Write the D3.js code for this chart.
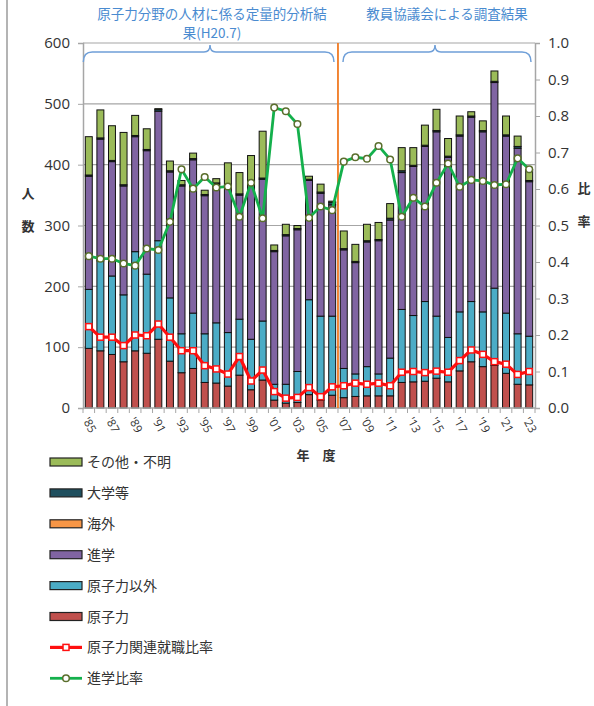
<!DOCTYPE html>
<html>
<head>
<meta charset="utf-8">
<script src="https://cdn.jsdelivr.net/npm/d3@7"></script>
<style>
  html, body { margin: 0; padding: 0; background: #fff; }
  svg { display: block; font-family: "Noto Sans CJK JP", "Noto Sans", sans-serif; }
</style>
</head>
<body>
<svg id="chart" width="594" height="706"></svg>
<script>
// Fiscal years 1985–2023
const years = d3.range(1985, 2024);

// Graduate destinations (people), bottom to top of each stack
const nuclear    = [98, 94, 88, 76, 94, 90, 113, 77, 58, 65, 42, 41, 36, 54, 30, 46, 13, 8, 9, 22, 13, 21, 17, 19, 20, 20, 20, 42, 43, 44, 49, 43, 61, 76, 68, 70, 57, 39, 38];
const nonNuclear = [97, 148, 129, 110, 163, 130, 162, 104, 64, 91, 80, 99, 88, 92, 83, 97, 26, 31, 51, 156, 138, 130, 48, 37, 48, 36, 62, 120, 109, 131, 102, 73, 97, 99, 90, 127, 99, 83, 80];
const advance    = [186, 200, 188, 179, 189, 203, 213, 207, 243, 252, 227, 228, 240, 204, 259, 233, 218, 244, 233, 196, 202, 183, 195, 183, 205, 219, 227, 225, 245, 255, 303, 296, 289, 303, 296, 338, 291, 305, 254];
const overseas   = [0, 0, 0, 0, 0, 0, 0, 0, 0, 0, 0, 0, 0, 0, 0, 0, 0, 0, 0, 0, 0, 0, 0, 0, 0, 0, 0, 0, 0, 0, 0, 0, 0, 0, 0, 0, 0, 0, 0];
const university = [2, 2, 2, 2, 2, 2, 3, 2, 2, 2, 2, 2, 2, 2, 2, 2, 2, 2, 2, 2, 2, 4, 2, 2, 2, 2, 3, 3, 2, 2, 2, 2, 2, 2, 2, 2, 2, 3, 2];
const other      = [63, 46, 57, 86, 33, 34, 1, 16, 7, 9, 7, 7, 37, 35, 41, 77, 9, 17, 5, 5, 13, 2, 29, 28, 27, 28, 24, 38, 29, 33, 35, 29, 31, 7, 16, 17, 31, 17, 18];

// Ratios (right axis)
const jobRatio = [0.223, 0.194, 0.194, 0.171, 0.200, 0.198, 0.230, 0.194, 0.157, 0.157, 0.116, 0.107, 0.093, 0.141,
                  0.074, 0.104, 0.045, 0.027, 0.029, 0.056, 0.031, 0.058, 0.061, 0.068, 0.065,
                  0.068, 0.061, 0.098, 0.100, 0.097, 0.101, 0.098, 0.130, 0.159, 0.147, 0.127, 0.120, 0.092, 0.100];
const advRatio = [0.416, 0.409, 0.409, 0.396, 0.390, 0.437, 0.433, 0.510, 0.654, 0.601, 0.633, 0.604, 0.607, 0.524,
                  0.617, 0.520, 0.823, 0.813, 0.778, 0.521, 0.552, 0.542, 0.675, 0.687, 0.683,
                  0.718, 0.681, 0.524, 0.576, 0.552, 0.617, 0.670, 0.606, 0.625, 0.622, 0.611, 0.613, 0.684, 0.654];

const leftTicks  = [0, 100, 200, 300, 400, 500, 600];
const rightTicks = [0, 0.1, 0.2, 0.3, 0.4, 0.5, 0.6, 0.7, 0.8, 0.9, 1.0];

const seriesKeys   = ["原子力", "原子力以外", "進学", "海外", "大学等", "その他・不明"];
const seriesValues = [nuclear, nonNuclear, advance, overseas, university, other];
const seriesColors = ["#c0504d", "#4bacc6", "#8064a2", "#f79646", "#1f4f5e", "#9bbb59"];

const sourceNotes = [
  { lines: ["原子力分野の人材に係る定量的分析結", "果(H20.7)"], from: 1985, to: 2006 },
  { lines: ["教員協議会による調査結果"], from: 2007, to: 2023 }
];

const rows = years.map((yr, i) => {
  const r = { year: yr };
  seriesKeys.forEach((k, j) => r[k] = seriesValues[j][i]);
  return r;
});

const svg = d3.select("#chart");
const plot = { left: 83, right: 535, top: 43, bottom: 408 };

const x = d3.scaleBand().domain(years).range([plot.left, plot.right]).paddingInner(0.4).paddingOuter(0.2);
const y = d3.scaleLinear().domain([0, 600]).range([plot.bottom, plot.top]);
const y2 = d3.scaleLinear().domain([0, 1]).range([plot.bottom, plot.top]);
const cx = yr => x(yr) + x.bandwidth() / 2;

// outer frame edge
svg.append("line").attr("x1", 7).attr("x2", 7).attr("y1", 0).attr("y2", 706)
  .attr("stroke", "#b4b4b4").attr("stroke-width", 2);

// horizontal gridlines
svg.append("g").selectAll("line").data(leftTicks.filter(d => d > 0)).join("line")
  .attr("x1", plot.left).attr("x2", plot.right)
  .attr("y1", d => y(d)).attr("y2", d => y(d))
  .attr("stroke", "#a6a6a6").attr("stroke-width", 1.2);

// left axis
const axL = svg.append("g").attr("transform", `translate(${plot.left},0)`)
  .call(d3.axisLeft(y).tickValues(leftTicks).tickSize(5).tickPadding(8));
axL.select(".domain").attr("stroke", "#a6a6a6").attr("stroke-width", 1.5);
axL.selectAll(".tick line").attr("stroke", "#a6a6a6");
axL.selectAll("text").attr("font-size", 15).attr("fill", "#333").attr("font-family", "'Open Sans', 'Noto Sans', sans-serif");

// right axis
const axR = svg.append("g").attr("transform", `translate(${plot.right},0)`)
  .call(d3.axisRight(y2).tickValues(rightTicks).tickSize(5).tickPadding(8).tickFormat(d3.format(".1f")));
axR.select(".domain").attr("stroke", "#a6a6a6").attr("stroke-width", 1.5);
axR.selectAll(".tick line").attr("stroke", "#a6a6a6");
axR.selectAll("text").attr("font-size", 15).attr("fill", "#333").attr("font-family", "'Open Sans', 'Noto Sans', sans-serif");

// stacked bars
const stacked = d3.stack().keys(seriesKeys)(rows);
svg.append("g").selectAll("g").data(stacked).join("g")
  .attr("fill", (d, i) => seriesColors[i])
  .selectAll("rect").data(d => d).join("rect")
  .attr("x", d => x(d.data.year))
  .attr("width", x.bandwidth())
  .attr("y", d => y(d[1]))
  .attr("height", d => Math.max(0, y(d[0]) - y(d[1])))
  .attr("stroke", "#111").attr("stroke-width", 1);

// bottom axis
const axB = svg.append("g").attr("transform", `translate(0,${plot.bottom})`);
axB.append("line").attr("x1", plot.left).attr("x2", plot.right).attr("y1", 0).attr("y2", 0)
  .attr("stroke", "#a6a6a6").attr("stroke-width", 1.5);
axB.selectAll("line.tk").data(d3.range(years.length + 1)).join("line").attr("class", "tk")
  .attr("x1", i => plot.left + (plot.right - plot.left) * i / years.length)
  .attr("x2", i => plot.left + (plot.right - plot.left) * i / years.length)
  .attr("y1", 0).attr("y2", 5).attr("stroke", "#a6a6a6");
axB.selectAll("text").data(years.filter(yr => yr % 2 === 1)).join("text")
  .attr("transform", yr => `translate(${cx(yr) - 3},${10}) rotate(62)`)
  .attr("font-size", 11.5).attr("fill", "#333")
  .attr("font-family", "'Open Sans', 'Noto Sans', sans-serif")
  .attr("dy", "0.35em")
  .text(yr => "'" + String(yr).slice(2));

// source boundary
const boundaryX = (x(2006) + x.bandwidth() + x(2007)) / 2;
svg.append("line").attr("x1", boundaryX).attr("x2", boundaryX)
  .attr("y1", plot.top).attr("y2", plot.bottom)
  .attr("stroke", "#f07a22").attr("stroke-width", 1.8);

// source braces and titles
function brace(x0, x1, mid) {
  const yTop = 45, yBar = 52, yEnd = 62, r = 6;
  return `M${x0},${yEnd} Q${x0},${yBar} ${x0 + r * 1.5},${yBar} L${mid - r},${yBar} Q${mid},${yBar} ${mid},${yTop}` +
         ` Q${mid},${yBar} ${mid + r},${yBar} L${x1 - r * 1.5},${yBar} Q${x1},${yBar} ${x1},${yEnd}`;
}
const braceSpecs = [
  { x0: x(1985) - 2, x1: boundaryX - 4, mid: 210, tx: 212 },
  { x0: boundaryX + 5, x1: plot.right - 4, mid: 435, tx: 447 }
];
sourceNotes.forEach((s, i) => {
  const b = braceSpecs[i];
  svg.append("path").attr("d", brace(b.x0, b.x1, b.mid))
    .attr("fill", "none").attr("stroke", "#6f9fd8").attr("stroke-width", 1.5);
  s.lines.forEach((ln, k) => {
    svg.append("text").attr("x", b.tx).attr("y", 19 + k * 19)
      .attr("text-anchor", "middle").attr("font-size", 13.5).attr("fill", "#4a8bd0")
      .text(ln);
  });
});

// ratio lines
const line = d3.line().x((d, i) => cx(years[i])).y(d => y2(d));
svg.append("path").datum(advRatio).attr("d", line)
  .attr("fill", "none").attr("stroke", "#14b04c").attr("stroke-width", 2.8);
svg.append("g").selectAll("circle").data(advRatio).join("circle")
  .attr("cx", (d, i) => cx(years[i])).attr("cy", d => y2(d)).attr("r", 3.3)
  .attr("fill", "#fff").attr("stroke", "#5a6e2c").attr("stroke-width", 1.5);

svg.append("path").datum(jobRatio).attr("d", line)
  .attr("fill", "none").attr("stroke", "#ff1010").attr("stroke-width", 3.2);
svg.append("g").selectAll("rect").data(jobRatio).join("rect")
  .attr("x", (d, i) => cx(years[i]) - 3).attr("y", d => y2(d) - 3)
  .attr("width", 6).attr("height", 6)
  .attr("fill", "#fff").attr("stroke", "#ff1010").attr("stroke-width", 1.5);

// axis titles
const axisTitle = (t, tx, ty) => svg.append("text").attr("x", tx).attr("y", ty)
  .attr("text-anchor", "middle").attr("font-size", 13).attr("font-weight", "bold").attr("fill", "#333").text(t);
axisTitle("人", 28, 198);
axisTitle("数", 28, 231);
axisTitle("比", 584, 193);
axisTitle("率", 584, 226);
axisTitle("年　度", 316, 460);

// legend
const legendItems = [
  { label: "その他・不明", type: "bar", color: seriesColors[5] },
  { label: "大学等", type: "bar", color: seriesColors[4] },
  { label: "海外", type: "bar", color: seriesColors[3] },
  { label: "進学", type: "bar", color: seriesColors[2] },
  { label: "原子力以外", type: "bar", color: seriesColors[1] },
  { label: "原子力", type: "bar", color: seriesColors[0] },
  { label: "原子力関連就職比率", type: "sq", color: "#ff1010" },
  { label: "進学比率", type: "circ", color: "#14b04c" }
];
const lg = svg.append("g").attr("transform", "translate(50,462)");
legendItems.forEach((it, i) => {
  const g = lg.append("g").attr("transform", `translate(0,${i * 30.9})`);
  if (it.type === "bar") {
    g.append("rect").attr("x", 0).attr("y", -4).attr("width", 32).attr("height", 8)
      .attr("fill", it.color).attr("stroke", "#222").attr("stroke-width", 1.2);
  } else {
    g.append("line").attr("x1", 0).attr("x2", 32).attr("y1", 0).attr("y2", 0)
      .attr("stroke", it.color).attr("stroke-width", it.type === "sq" ? 3.2 : 2.8);
    if (it.type === "sq") {
      g.append("rect").attr("x", 13).attr("y", -3).attr("width", 6).attr("height", 6)
        .attr("fill", "#fff").attr("stroke", it.color).attr("stroke-width", 1.5);
    } else {
      g.append("circle").attr("cx", 16).attr("cy", 0).attr("r", 3.3)
        .attr("fill", "#fff").attr("stroke", "#5a6e2c").attr("stroke-width", 1.5);
    }
  }
  g.append("text").attr("x", 37).attr("y", 0).attr("dy", "0.36em")
    .attr("font-size", 14).attr("fill", "#333").text(it.label);
});
</script>
</body>
</html>
